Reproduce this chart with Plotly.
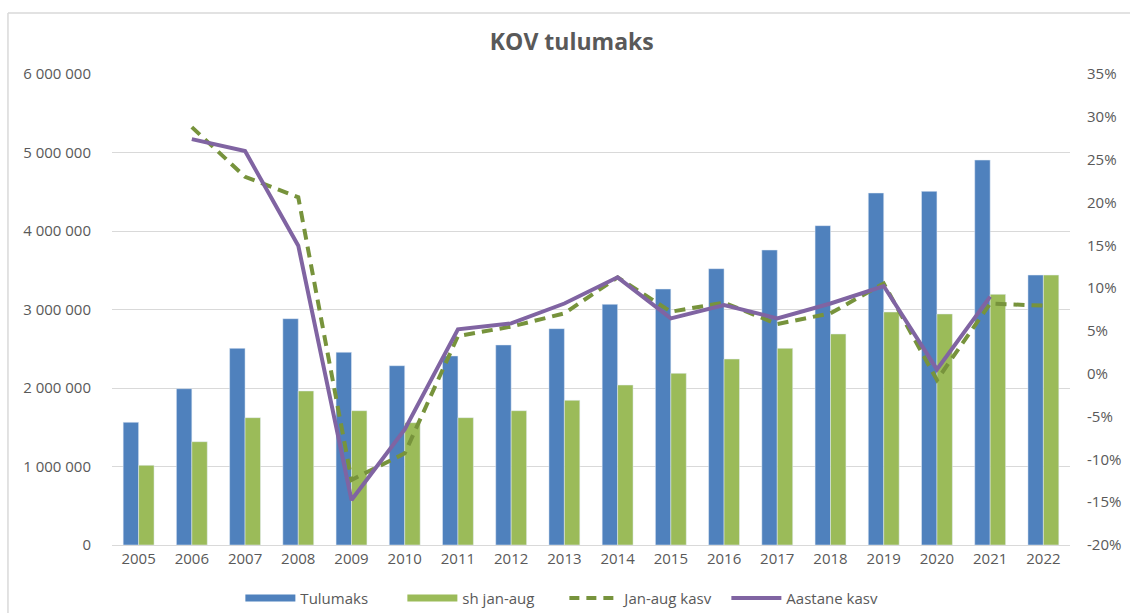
import plotly.graph_objects as go

years = [str(y) for y in range(2005, 2023)]
tulumaks = [1563000, 1991000, 2505000, 2883000, 2455000, 2284000, 2408000, 2548000, 2756000,
            3066000, 3261000, 3520000, 3758000, 4068000, 4484000, 4505000, 4904000, 3439000]
sh_jan_aug = [1015000, 1316000, 1622000, 1962000, 1711000, 1558000, 1622000, 1711000, 1843000,
              2038000, 2187000, 2369000, 2505000, 2688000, 2968000, 2943000, 3193000, 3439000]
jan_aug_kasv = [None, 28.8, 23.0, 20.6, -12.4, -9.3, 4.4, 5.5, 7.05, 11.26, 7.24, 8.3, 5.8, 7.05,
                10.55, -0.74, 8.2, 7.95]
aastane_kasv = [None, 27.4, 26.0, 14.95, -14.75, -6.5, 5.18, 5.88, 8.2, 11.26, 6.47, 8.02, 6.47,
                8.2, 10.24, 0.5, 9.0, None]
left_ticks = [0, 1000000, 2000000, 3000000, 4000000, 5000000, 6000000]
left_ticktext = ["0", "1 000 000", "2 000 000", "3 000 000", "4 000 000", "5 000 000", "6 000 000"]
right_ticks = [-20, -15, -10, -5, 0, 5, 10, 15, 20, 25, 30, 35]
right_ticktext = ["-20%", "-15%", "-10%", "-5%", "0%", "5%", "10%", "15%", "20%", "25%", "30%", "35%"]

BLUE = "#4F81BD"
GREEN = "#9BBB59"
DGREEN = "#77933C"
PURPLE = "#8064A2"
TXT = "#595959"
FONT = "Open Sans"
DASH = "11px,7px"

fig = go.Figure()
fig.add_trace(go.Bar(x=years, y=tulumaks, name="Tulumaks", marker=dict(color=BLUE), showlegend=False))
fig.add_trace(go.Bar(x=years, y=sh_jan_aug, name="sh jan-aug", marker=dict(color=GREEN), showlegend=False))
fig.add_trace(go.Scatter(x=years, y=jan_aug_kasv, name="Jan-aug kasv", mode="lines", yaxis="y2",
                         line=dict(color=DGREEN, width=4, dash=DASH), showlegend=False))
fig.add_trace(go.Scatter(x=years, y=aastane_kasv, name="Aastane kasv", mode="lines", yaxis="y2",
                         line=dict(color=PURPLE, width=4), showlegend=False))
# legend entries
fig.add_trace(go.Scatter(x=[None], y=[None], name="Tulumaks", mode="lines",
                         line=dict(color=BLUE, width=7)))
fig.add_trace(go.Scatter(x=[None], y=[None], name="sh jan-aug", mode="lines",
                         line=dict(color=GREEN, width=7)))
fig.add_trace(go.Scatter(x=[None], y=[None], name="Jan-aug kasv", mode="lines",
                         line=dict(color=DGREEN, width=4, dash="10px,7px")))
fig.add_trace(go.Scatter(x=[None], y=[None], name="Aastane kasv", mode="lines",
                         line=dict(color=PURPLE, width=4)))

fig.update_layout(
    width=1130, height=613,
    margin=dict(l=112, r=60, t=74, b=68, autoexpand=False),
    paper_bgcolor="white", plot_bgcolor="white",
    font=dict(family=FONT, size=15, color=TXT),
    title=dict(text="<b>KOV tulumaks</b>", x=0.506, xanchor="center", y=0.932, yanchor="middle",
               font=dict(family=FONT, size=23, color=TXT)),
    barmode="group", bargap=0.42, bargroupgap=0,
    xaxis=dict(type="category", showgrid=False, showline=True, linecolor="#D9D9D9", linewidth=1,
               ticks="", tickfont=dict(size=15, color=TXT), automargin=False),
    yaxis=dict(range=[0, 6000000], tickvals=left_ticks, ticktext=left_ticktext,
               showgrid=True, gridcolor="#D9D9D9", gridwidth=1, zeroline=False,
               showline=False, ticks="", ticklabelstandoff=20, tickfont=dict(size=15, color=TXT),
               automargin=False),
    yaxis2=dict(range=[-20, 35], tickvals=right_ticks, ticktext=right_ticktext, overlaying="y",
                side="right", showgrid=False, zeroline=False, showline=False, ticks="",
                ticklabelstandoff=16, tickfont=dict(size=15, color=TXT), automargin=False),
    legend=dict(orientation="h", x=0.134, xanchor="left", y=-0.113, yanchor="middle",
                font=dict(size=15, color=TXT), itemwidth=50, entrywidth=97,
                entrywidthmode="pixels", tracegroupgap=0, bgcolor="rgba(0,0,0,0)"),
    shapes=[
        dict(type="line", xref="paper", yref="paper", x0=-0.1086, x1=1.07, y0=1.1295, y1=1.1295,
             line=dict(color="#D9D9D9", width=1.5)),
        dict(type="line", xref="paper", yref="paper", x0=-0.1086, x1=-0.1086, y0=1.1295, y1=-0.16,
             line=dict(color="#D9D9D9", width=1.5)),
    ],
)

fig.write_html("out.html", config={"displayModeBar": False},
               post_script="document.body.style.margin='0px';")
